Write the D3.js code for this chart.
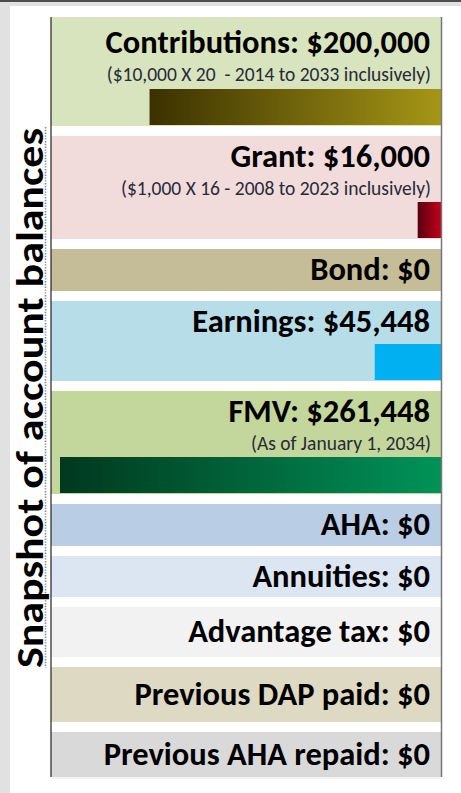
<!DOCTYPE html>
<html>
<head>
<meta charset="utf-8">
<script src="https://cdn.jsdelivr.net/npm/d3@7"></script>
<style>
  html, body { margin: 0; padding: 0; background: #e1e1e1; }
  svg { display: block; }
</style>
</head>
<body>
<div id="chart"></div>
<script>
// account snapshot values
var categories = ["Contributions", "Grant", "Bond", "Earnings", "FMV", "AHA", "Annuities", "Advantage tax", "Previous DAP paid", "Previous AHA repaid"];
var amounts = [200000, 16000, 0, 45448, 261448, 0, 0, 0, 0, 0];
var notes = ["($10,000 X 20  - 2014 to 2033 inclusively)", "($1,000 X 16 - 2008 to 2023 inclusively)", "", "", "(As of January 1, 2034)", "", "", "", "", ""];
var titleText = "Snapshot of account balances";

// styles
var rowColors = ["#d7e4bd", "#f2dcdb", "#c4bd97", "#b7dde8", "#c3d69b", "#b9cde5", "#dce6f2", "#f2f2f2", "#ddd9c3", "#d9d9d9"];
var barStops = [["#3b3100", "#a59616"], ["#560010", "#c3001a"], null, ["#00b0f0", "#00b0f0"], ["#00381e", "#009358"], null, null, null, null, null];

// layout (row slot heights, not data)
var rowHeights = [109, 103, 42, 80, 103, 42, 41, 50, 55, 45];
var rowGap = 10;

var width = 461, height = 793;
var chart = { left: 51, right: 441, top: 17 };
var barSpan = 381, barH = 36;
var fontStack = "Carlito, Lato, 'Liberation Sans', sans-serif";

var fmt = d3.format("$,");

var svg = d3.select("#chart")
    .append("svg")
    .attr("width", width)
    .attr("height", height);

// page frame
svg.append("rect").attr("x", 0).attr("y", 0).attr("width", width).attr("height", height).attr("fill", "#e1e1e1");
svg.append("rect").attr("x", 10).attr("y", 6).attr("width", width - 10).attr("height", height - 6).attr("fill", "#ffffff");
svg.append("rect").attr("x", 0).attr("y", 0).attr("width", width).attr("height", 2).attr("fill", "#4d4d4d");

// row positions from slot heights
var tops = [];
var acc = chart.top;
rowHeights.forEach(function (h) { tops.push(acc); acc += h + rowGap; });
var bottom = tops[tops.length - 1] + rowHeights[rowHeights.length - 1];

var xScale = d3.scaleLinear()
    .domain([0, d3.max(amounts)])
    .range([0, barSpan]);

var defs = svg.append("defs");
barStops.forEach(function (s, i) {
    if (!s) return;
    var g = defs.append("linearGradient")
        .attr("id", "grad" + i)
        .attr("x1", "0%").attr("x2", "100%")
        .attr("y1", "0%").attr("y2", "0%");
    g.append("stop").attr("offset", "0%").attr("stop-color", s[0]);
    g.append("stop").attr("offset", "100%").attr("stop-color", s[1]);
});

var rows = svg.selectAll(".row")
    .data(categories)
    .enter().append("g")
    .attr("class", "row")
    .attr("transform", function (d, i) { return "translate(0," + tops[i] + ")"; });

rows.append("rect")
    .attr("x", chart.left)
    .attr("y", 0)
    .attr("width", chart.right - chart.left)
    .attr("height", function (d, i) { return rowHeights[i]; })
    .attr("fill", function (d, i) { return rowColors[i]; });

rows.filter(function (d, i) { return amounts[i] > 0; })
    .append("rect")
    .attr("class", "bar")
    .attr("x", function (d) { var i = categories.indexOf(d); return chart.right - xScale(amounts[i]); })
    .attr("y", function (d) { var i = categories.indexOf(d); return rowHeights[i] - 1 - barH; })
    .attr("width", function (d) { var i = categories.indexOf(d); return xScale(amounts[i]); })
    .attr("height", barH)
    .attr("fill", function (d) { var i = categories.indexOf(d); return "url(#grad" + i + ")"; });

function labelY(i) {
    // rows with a bar put the label at the top, others centre it
    return amounts[i] > 0 ? (i === 0 ? 36 : 31) : rowHeights[i] / 2 + 10;
}

rows.append("text")
    .attr("class", "label")
    .attr("x", 430)
    .attr("y", function (d, i) { return labelY(i); })
    .attr("text-anchor", "end")
    .style("font-family", fontStack)
    .style("font-weight", "bold")
    .style("font-size", "32.5px")
    .attr("fill", "#000")
    .text(function (d, i) { return d + ": " + fmt(amounts[i]); });

rows.filter(function (d, i) { return notes[i] !== ""; })
    .append("text")
    .attr("class", "note")
    .attr("x", 431)
    .attr("y", function (d) { var i = categories.indexOf(d); return labelY(i) + 27.5; })
    .attr("text-anchor", "end")
    .style("font-family", fontStack)
    .style("font-size", "19.5px")
    .attr("fill", "#262a3a")
    .style("white-space", "pre")
    .attr("xml:space", "preserve")
    .text(function (d) { return notes[categories.indexOf(d)]; });

// frame lines
svg.append("line")
    .attr("x1", chart.left).attr("x2", chart.left)
    .attr("y1", chart.top).attr("y2", bottom)
    .attr("stroke", "#222").attr("stroke-width", 1.2);
svg.append("line")
    .attr("x1", chart.right + 0.5).attr("x2", chart.right + 0.5)
    .attr("y1", chart.top).attr("y2", bottom)
    .attr("stroke", "#777").attr("stroke-width", 1.5);
svg.append("line")
    .attr("x1", chart.left + 2).attr("x2", chart.right)
    .attr("y1", bottom + 1).attr("y2", bottom + 1)
    .attr("stroke", "#eeeeee").attr("stroke-width", 1.5);

// side title with dotted edge
svg.append("line")
    .attr("x1", 45.5).attr("x2", 45.5)
    .attr("y1", 127).attr("y2", 668)
    .attr("stroke", "#8a8a8a")
    .attr("stroke-width", 1.6)
    .attr("stroke-dasharray", "1.4,1.4");

svg.append("text")
    .attr("transform", "translate(43,398) rotate(-90)")
    .attr("text-anchor", "middle")
    .style("font-family", fontStack)
    .style("font-weight", "bold")
    .style("font-size", "39px")
    .attr("textLength", 540)
    .attr("lengthAdjust", "spacingAndGlyphs")
    .attr("fill", "#000")
    .text(titleText);
</script>
</body>
</html>
